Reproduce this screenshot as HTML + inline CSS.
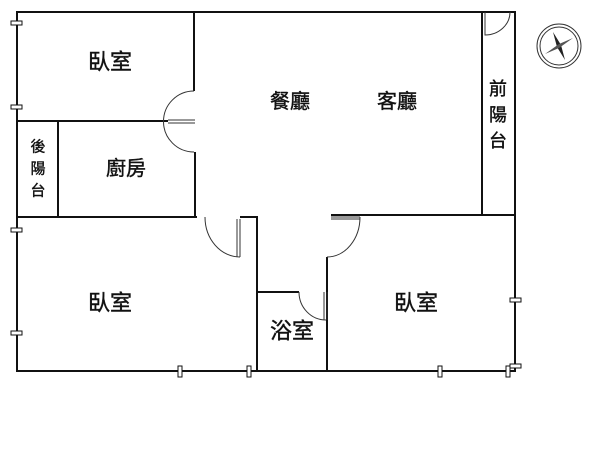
<!DOCTYPE html><html><head><style>body{margin:0;background:#fff}svg{display:block}text{font-family:"Liberation Sans","Noto Sans CJK TC",sans-serif;fill:#111;stroke:#111;stroke-width:0.4;text-anchor:middle;dominant-baseline:central}</style></head><body>
<svg width="600" height="450" viewBox="0 0 600 450" xmlns="http://www.w3.org/2000/svg">
<g stroke="#111" stroke-width="2" fill="none">
<path d="M17,12 H515 V371 H17 Z"/>
<path d="M194,12 V91 M195,152 V217 M17,121 H168 M58,121 V217 M17,217 H197"/>
<path d="M240,217 H257 V371 M258,292 H299 M327,257 V371 M331,215 H515 M482,12 V215"/>
</g>
<g stroke="#333" stroke-width="1" fill="none">
<path d="M194,91 A30,30 0 0 0 194,152"/>
<path d="M168,120 H195 M168,123 H195"/>
<path d="M205,217 A35,40 0 0 0 240,257"/>
<path d="M237,219 V257 M240,219 V257"/>
<path d="M299,292 A27,28 0 0 0 326,320"/>
<path d="M324,292 V320 M327,292 V320"/>
<path d="M360,217 A33,40 0 0 1 327,257"/>
<path d="M331,217 H360 M331,219 H360"/>
<path d="M485,12 V35 A25,23 0 0 0 510,12"/>
</g>
<g stroke="#111" stroke-width="1" fill="#fff">
<rect x="11" y="21" width="11" height="4"/><rect x="11" y="105" width="11" height="4"/>
<rect x="11" y="228" width="11" height="4"/><rect x="11" y="331" width="11" height="4"/>
<rect x="178" y="366" width="4" height="11"/><rect x="247" y="366" width="4" height="11"/>
<rect x="438" y="366" width="4" height="11"/><rect x="506" y="366" width="4" height="11"/>
<rect x="510" y="298" width="11" height="4"/><rect x="510" y="364" width="11" height="4"/>
</g>
<g transform="translate(559,46)">
<circle r="22" fill="none" stroke="#333" stroke-width="1"/><circle r="19" fill="none" stroke="#333" stroke-width="1"/>
<path d="M-6,-14 L2,-1 L6,14 L-2,1 Z" fill="#222"/>
<path d="M-14,8 L0,-2 L14,-8 L0,2 Z" fill="#555"/>
</g>
<text x="110" y="62" font-size="22">臥室</text>
<text x="126" y="169" font-size="20">廚房</text>
<text x="38" y="147" font-size="15">後</text><text x="38" y="169" font-size="15">陽</text><text x="38" y="191" font-size="15">台</text>
<text x="290" y="102" font-size="20">餐廳</text>
<text x="397" y="102" font-size="20">客廳</text>
<text x="498" y="89" font-size="18">前</text><text x="498" y="115" font-size="18">陽</text><text x="498" y="141" font-size="18">台</text>
<text x="110" y="303" font-size="22">臥室</text>
<text x="292" y="331" font-size="22">浴室</text>
<text x="416" y="303" font-size="22">臥室</text>
</svg></body></html>
